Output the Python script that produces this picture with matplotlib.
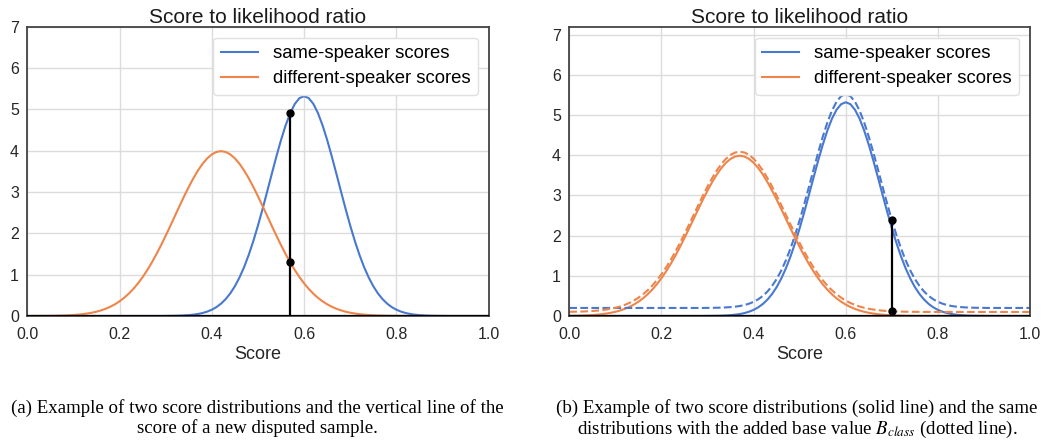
import numpy as np
import matplotlib
matplotlib.use('Agg')
import matplotlib.pyplot as plt

# score axis, read at steps of 0.01
score = np.linspace(0.0, 1.0, 101)

# same-speaker density (both panels)
same_speaker = [0] * 30 + [
    0.002, 0.003, 0.005, 0.008, 0.013, 0.021, 0.032, 0.048, 0.072, 0.106,
    0.152, 0.215, 0.299, 0.408, 0.547, 0.720, 0.932, 1.184, 1.479, 1.814,
    2.187, 2.589, 3.011, 3.441, 3.862, 4.259, 4.614, 4.910, 5.133, 5.272,
    5.319,
    5.272, 5.133, 4.910, 4.614, 4.259, 3.862, 3.441, 3.011, 2.589, 2.187,
    1.814, 1.479, 1.184, 0.932, 0.720, 0.547, 0.408, 0.299, 0.215, 0.152,
    0.106, 0.072, 0.048, 0.032, 0.021, 0.013, 0.008, 0.005, 0.003, 0.002,
] + [0] * 10

# different-speaker density, panel (a)
diff_speaker_a = [
    0.001, 0.001, 0.001, 0.002, 0.003, 0.004, 0.006, 0.009, 0.012, 0.017,
    0.024, 0.033, 0.044, 0.060, 0.079, 0.104, 0.136, 0.175, 0.224, 0.283,
    0.355, 0.440, 0.540, 0.656, 0.790, 0.940, 1.109, 1.295, 1.497, 1.714,
    1.942, 2.179, 2.420, 2.661, 2.897, 3.122, 3.332, 3.521, 3.682, 3.814,
    3.910, 3.969, 3.989,
    3.969, 3.910, 3.814, 3.682, 3.521, 3.332, 3.122, 2.897, 2.661, 2.420,
    2.179, 1.942, 1.714, 1.497, 1.295, 1.109, 0.940, 0.790, 0.656, 0.540,
    0.440, 0.355, 0.283, 0.224, 0.175, 0.136, 0.104, 0.079, 0.060, 0.044,
    0.033, 0.024, 0.017, 0.012, 0.009, 0.006, 0.004, 0.003, 0.002, 0.001,
    0.001, 0.001,
] + [0] * 16

# different-speaker density, panel (b)
diff_speaker_b = [
    0.004, 0.006, 0.009, 0.012, 0.017, 0.024, 0.033, 0.044, 0.060, 0.079,
    0.104, 0.136, 0.175, 0.224, 0.283, 0.355, 0.440, 0.540, 0.656, 0.790,
    0.940, 1.109, 1.295, 1.497, 1.714, 1.942, 2.179, 2.420, 2.661, 2.897,
    3.122, 3.332, 3.521, 3.682, 3.814, 3.910, 3.969, 3.989,
    3.969, 3.910, 3.814, 3.682, 3.521, 3.332, 3.122, 2.897, 2.661, 2.420,
    2.179, 1.942, 1.714, 1.497, 1.295, 1.109, 0.940, 0.790, 0.656, 0.540,
    0.440, 0.355, 0.283, 0.224, 0.175, 0.136, 0.104, 0.079, 0.060, 0.044,
    0.033, 0.024, 0.017, 0.012, 0.009, 0.006, 0.004, 0.003, 0.002, 0.001,
    0.001, 0.001,
] + [0] * 21

# base values B_class added in panel (b)
base_same = 0.2
base_diff = 0.1

# disputed sample scores
sample_a = 0.57
sample_b = 0.70

title = "Score to likelihood ratio"
labels = ["same-speaker scores", "different-speaker scores"]
caption_a = ("(a) Example of two score distributions and the vertical line of the\n"
             "score of a new disputed sample.")
caption_b = ("(b) Example of two score distributions (solid line) and the same\n"
             "distributions with the added base value $B_{class}$ (dotted line).")

blue = '#4878d0'
orange = '#ee854a'

plt.rcParams['font.family'] = ['Liberation Sans', 'DejaVu Sans']
plt.rcParams['mathtext.fontset'] = 'stix'

same_speaker = np.array(same_speaker)
diff_speaker_a = np.array(diff_speaker_a)
diff_speaker_b = np.array(diff_speaker_b)

fig = plt.figure(figsize=(10.41, 4.47), dpi=100)
ax1 = fig.add_axes([0.0262, 0.2931, 0.4432, 0.6472])
ax2 = fig.add_axes([0.5469, 0.2931, 0.4426, 0.6472])


def style(ax, ytop):
    ax.set_xlim(0, 1)
    ax.set_ylim(0, ytop)
    ax.set_yticks(range(8))
    ax.set_xticks([0, 0.2, 0.4, 0.6, 0.8, 1.0])
    ax.grid(True, color='#dcdcdc', lw=1)
    ax.set_axisbelow(True)
    ax.tick_params(length=0, labelsize=11.5, labelcolor='#262626', pad=6)
    ax.tick_params(axis='x', pad=8)
    for s in ax.spines.values():
        s.set_color('#444444')
        s.set_linewidth(1.3)
    ax.axhline(0, color='black', lw=1.6, zorder=3)
    ax.set_title(title, fontsize=15, color='#1a1a1a', pad=3)
    ax.set_xlabel("Score", fontsize=13, color='#262626', labelpad=3)
    ax.legend(loc='upper right', fontsize=13.3, frameon=True, fancybox=True,
              edgecolor='#e0e0e0', framealpha=1, borderpad=0.4,
              handlelength=2.0, handletextpad=0.8, labelspacing=0.45,
              borderaxespad=0.6)


# panel (a)
ax1.plot(score, same_speaker, color=blue, lw=1.5, label=labels[0])
ax1.plot(score, diff_speaker_a, color=orange, lw=1.5, label=labels[1])
ya_same = np.interp(sample_a, score, same_speaker)
ya_diff = np.interp(sample_a, score, diff_speaker_a)
ax1.plot([sample_a, sample_a], [0, ya_same], color='black', lw=1.6, zorder=4)
ax1.plot([sample_a, sample_a], [ya_same, ya_diff], 'o', color='black',
         ms=5, zorder=5)
style(ax1, 7)

# panel (b)
ax2.plot(score, same_speaker, color=blue, lw=1.5, label=labels[0])
ax2.plot(score, diff_speaker_b, color=orange, lw=1.5, label=labels[1])
ax2.plot(score, same_speaker + base_same, color=blue, lw=1.5, ls='--')
ax2.plot(score, diff_speaker_b + base_diff, color=orange, lw=1.5, ls='--')
yb_same = np.interp(sample_b, score, same_speaker) + base_same
yb_diff = np.interp(sample_b, score, diff_speaker_b) + base_diff
ax2.plot([sample_b, sample_b], [yb_diff, yb_same], color='black', lw=1.6,
         zorder=4)
ax2.plot([sample_b, sample_b], [yb_same, yb_diff], 'o', color='black',
         ms=5, zorder=5)
style(ax2, 7.2)

# captions
cap_font = dict(family='Liberation Serif', fontsize=13.6, ha='center',
                va='top', linespacing=1.15, color='black')
fig.text(257 / 1041, 1 - 399 / 447, caption_a, **cap_font)
fig.text(797 / 1041, 1 - 399 / 447, caption_b, **cap_font)

fig.savefig('out.png', dpi=100)
